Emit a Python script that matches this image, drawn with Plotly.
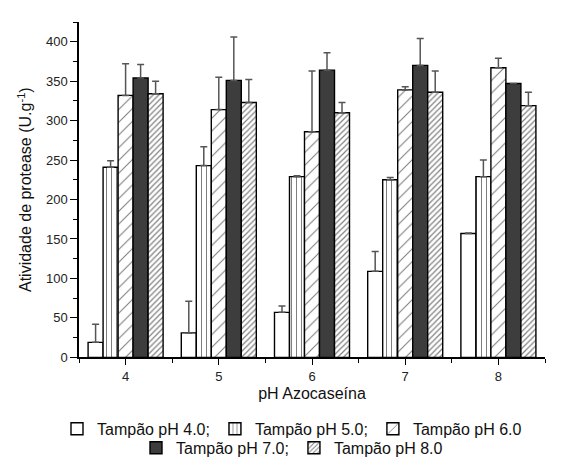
import plotly.graph_objects as go

ph_azocaseina = [4, 5, 6, 7, 8]
series_names = ["Tampão pH 4.0;", "Tampão pH 5.0;", "Tampão pH 6.0",
                "Tampão pH 7.0;", "Tampão pH 8.0"]
tampao_ph4 = [19, 31, 57, 109, 157]
tampao_ph4_err = [23, 40, 8, 25, 0.5]
tampao_ph5 = [241, 243, 229, 225, 229]
tampao_ph5_err = [8, 24, 1, 3, 21]
tampao_ph6 = [332, 314, 286, 339, 367]
tampao_ph6_err = [40, 41, 77, 4, 12]
tampao_ph7 = [354, 351, 364, 370, 347]
tampao_ph7_err = [17, 55, 22, 34, 0]
tampao_ph8 = [334, 323, 310, 336, 319]
tampao_ph8_err = [16, 29, 13, 27, 17]

values = [tampao_ph4, tampao_ph5, tampao_ph6, tampao_ph7, tampao_ph8]
errors = [tampao_ph4_err, tampao_ph5_err, tampao_ph6_err, tampao_ph7_err, tampao_ph8_err]

styles = [
    dict(color="white", pattern=dict(shape="")),
    dict(color="white", pattern=dict(shape="|", size=5, solidity=0.2, fgcolor="black")),
    dict(color="white", pattern=dict(shape="/", size=9, solidity=0.12, fgcolor="black")),
    dict(color="#3d3d3d", pattern=dict(shape="")),
    dict(color="white", pattern=dict(shape="/", size=4, solidity=0.3, fgcolor="black")),
]
legends = ["legend", "legend", "legend", "legend2", "legend2"]

FONT = "Arial, Liberation Sans, sans-serif"
fig = go.Figure()
for name, v, e, st, lg in zip(series_names, values, errors, styles, legends):
    fig.add_trace(go.Bar(
        x=ph_azocaseina, y=v, name=name, legend=lg,
        marker=dict(color=st["color"], pattern=st["pattern"],
                    line=dict(color="black", width=1.4)),
        error_y=dict(type="data", array=e, symmetric=False, arrayminus=[0]*len(e),
                     color="#555555", thickness=1.5, width=3.5),
    ))

fig.update_layout(
    width=568, height=461,
    margin=dict(l=71, r=31, t=14, b=104),
    paper_bgcolor="white", plot_bgcolor="white",
    barmode="group", bargap=0.195, bargroupgap=0,
    font=dict(family=FONT, color="#222222", size=13),
    legend=dict(orientation="h", xref="container", yref="container",
                x=0.5, xanchor="center", y=0.087, yanchor="middle",
                font=dict(size=16, family=FONT, color="#111111"),
                bgcolor="rgba(0,0,0,0)", itemwidth=30, tracegroupgap=0),
    legend2=dict(orientation="h", xref="container", yref="container",
                 x=0.5, xanchor="center", y=0.046, yanchor="middle",
                 font=dict(size=16, family=FONT, color="#111111"),
                 bgcolor="rgba(0,0,0,0)", itemwidth=30),
)
fig.update_xaxes(
    range=[3.5, 8.5], tickmode="array", tickvals=ph_azocaseina,
    ticks="outside", ticklen=6, tickwidth=1.3, tickcolor="black",
    minor=dict(ticks="outside", ticklen=4, dtick=0.5, tick0=3.5, tickcolor="black", tickwidth=1.3),
    showline=True, linecolor="black", linewidth=1.5, showgrid=False, zeroline=False,
    tickfont=dict(size=13, family=FONT, color="#222222"),
    title=dict(text="pH Azocaseína", font=dict(size=16, family=FONT, color="#111111"), standoff=5),
)
fig.update_yaxes(
    range=[0, 425], tickmode="linear", tick0=0, dtick=50,
    ticks="outside", ticklen=7, tickwidth=1.3, tickcolor="black",
    minor=dict(ticks="outside", ticklen=4, dtick=25, tickcolor="black", tickwidth=1.3),
    showline=True, linecolor="black", linewidth=1.5, showgrid=False, zeroline=False,
    tickfont=dict(size=13, family=FONT, color="#222222"),
    title=dict(text="Atividade de protease (U.g<sup>-1</sup>)",
               font=dict(size=16, family=FONT, color="#111111"), standoff=10),
)

fig.write_html("out.html")
